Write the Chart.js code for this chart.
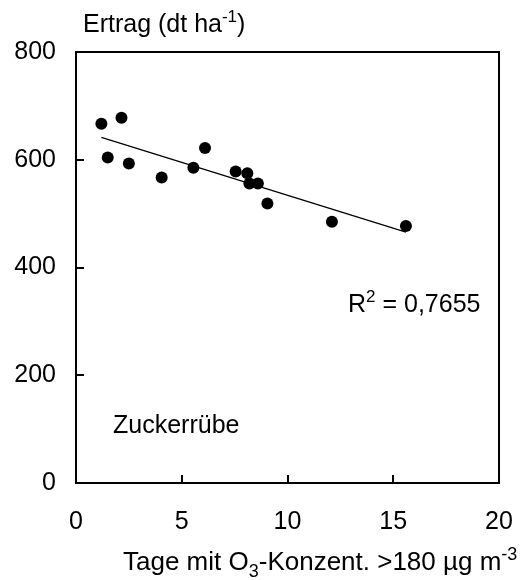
<!DOCTYPE html>
<html>
<head>
<meta charset="utf-8">
<script src="https://cdn.jsdelivr.net/npm/chart.js@4/dist/chart.umd.min.js"></script>
<style>
html,body{margin:0;padding:0;background:#fff;}
#wrap{width:527px;height:580px;position:relative;}
</style>
</head>
<body>
<div id="wrap"><canvas id="c" width="527" height="580"></canvas></div>
<script>
// Data
const ozoneDays = [1.2, 2.15, 1.5, 2.5, 4.05, 5.55, 6.1, 7.55, 8.1, 8.2, 8.6, 9.05, 12.1, 15.6];
const yieldValues = [667, 678, 604, 593, 567, 585, 622, 578, 575, 556, 556, 519, 485, 477];
const xTicks = [0, 5, 10, 15, 20];
const yTicks = [0, 200, 400, 600, 800];
const yTitle = ["Ertrag (dt ha", "-1", ")"];
const xTitle = ["Tage mit O", "3", "-Konzent. >180 µg m", "-3"];
const r2Label = ["R", "2", " = 0,7655"];
const cropLabel = "Zuckerrübe";

// least-squares trend from the data
const n = ozoneDays.length;
const mx = ozoneDays.reduce((a, b) => a + b, 0) / n;
const my = yieldValues.reduce((a, b) => a + b, 0) / n;
let sxy = 0, sxx = 0;
for (let i = 0; i < n; i++) { sxy += (ozoneDays[i] - mx) * (yieldValues[i] - my); sxx += (ozoneDays[i] - mx) ** 2; }
const slope = sxy / sxx, intercept = my - slope * mx;
const xMin = Math.min(...ozoneDays), xMax = Math.max(...ozoneDays);
const trend = [{x: xMin, y: intercept + slope * xMin}, {x: xMax, y: intercept + slope * xMax}];

const FONT = "'Liberation Sans', Arial, sans-serif";
Chart.defaults.font.family = FONT;
Chart.defaults.font.size = 25;
Chart.defaults.color = '#000';

function rich(ctx, x, y, parts, base) {
  let cx = x;
  parts.forEach(([t, m]) => {
    const size = m === 'n' ? base : Math.round(base * 0.68);
    const dy = m === 'sup' ? -Math.round(base * 0.4) : (m === 'sub' ? Math.round(base * 0.25) : 0);
    ctx.font = size + 'px ' + FONT;
    ctx.fillText(t, cx, y + dy);
    cx += ctx.measureText(t).width;
  });
}

const decor = {
  id: 'decor',
  afterDraw(chart) {
    const ctx = chart.ctx, a = chart.chartArea;
    const xs = chart.scales.x, ys = chart.scales.y;
    ctx.save();
    ctx.strokeStyle = '#000';
    ctx.lineWidth = 2;
    ctx.strokeRect(a.left, a.top, a.right - a.left, a.bottom - a.top);
    ctx.beginPath();
    xTicks.forEach(v => {
      const px = Math.round(xs.getPixelForValue(v));
      if (v > xs.min && v < xs.max) { ctx.moveTo(px, a.bottom); ctx.lineTo(px, a.bottom - 8); }
    });
    yTicks.forEach(v => {
      const py = Math.round(ys.getPixelForValue(v));
      if (v > ys.min && v < ys.max) { ctx.moveTo(a.left, py); ctx.lineTo(a.left + 8, py); }
    });
    ctx.stroke();
    ctx.fillStyle = '#000';
    ctx.textBaseline = 'alphabetic';
    ctx.textAlign = 'left';
    rich(ctx, 83, 32, [[yTitle[0], 'n'], [yTitle[1], 'sup'], [yTitle[2], 'n']], 25);
    rich(ctx, 123, 570, [[xTitle[0], 'n'], [xTitle[1], 'sub'], [xTitle[2], 'n'], [xTitle[3], 'sup']], 26);
    rich(ctx, 348, 312, [[r2Label[0], 'n'], [r2Label[1], 'sup'], [r2Label[2], 'n']], 25);
    rich(ctx, 113, 433, [[cropLabel, 'n']], 25);
    ctx.restore();
  }
};

new Chart(document.getElementById('c'), {
  type: 'scatter',
  data: {
    datasets: [
      {
        data: ozoneDays.map((x, i) => ({x, y: yieldValues[i]})),
        backgroundColor: '#000', borderWidth: 0, pointRadius: 6, pointHoverRadius: 6
      },
      {
        type: 'line', data: trend, borderColor: '#000', borderWidth: 1.3,
        pointRadius: 0, fill: false
      }
    ]
  },
  options: {
    responsive: false, animation: false,
    layout: {padding: {top: 52, right: 28, left: 0, bottom: 0}},
    plugins: {legend: {display: false}, tooltip: {enabled: false}},
    scales: {
      x: {
        type: 'linear', min: 0, max: 20,
        afterBuildTicks: s => { s.ticks = xTicks.map(v => ({value: v})); },
        afterFit: s => { s.height = 97; s.paddingLeft = 0; s.paddingRight = 0; },
        grid: {display: false, drawTicks: false},
        border: {display: false},
        ticks: {padding: 24, font: {size: 25}, color: '#000'}
      },
      y: {
        type: 'linear', min: 0, max: 800,
        afterBuildTicks: s => { s.ticks = yTicks.map(v => ({value: v})); },
        afterFit: s => { s.width = 76; s.paddingTop = 0; s.paddingBottom = 0; },
        grid: {display: false, drawTicks: false},
        border: {display: false},
        ticks: {padding: 20, font: {size: 25}, color: '#000'}
      }
    }
  },
  plugins: [decor]
});
</script>
</body>
</html>
